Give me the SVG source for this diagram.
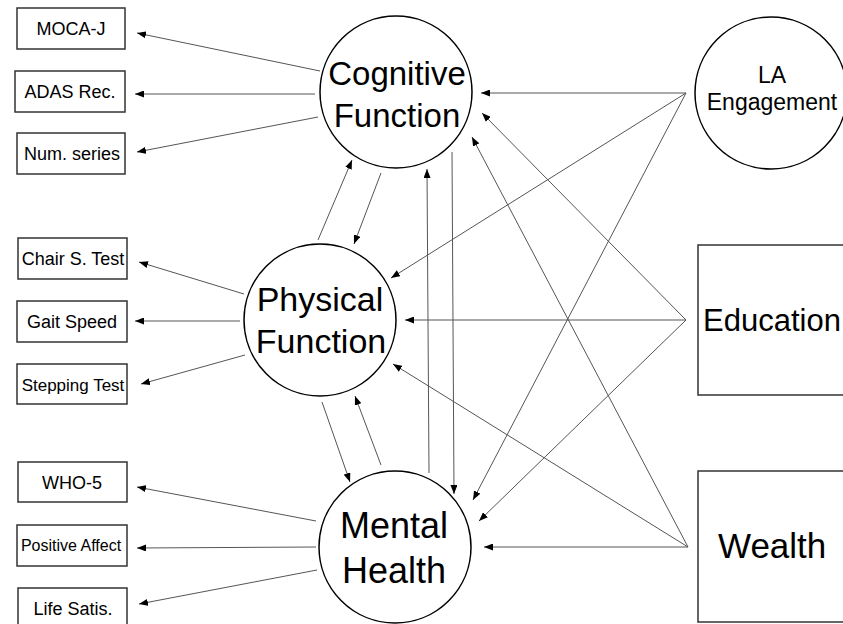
<svg xmlns="http://www.w3.org/2000/svg" width="843" height="624" viewBox="0 0 843 624">
<style>
  text { font-family: "Liberation Sans", Arial, sans-serif; fill: #000; text-anchor: middle; }
  .circ { fill: #fff; stroke: #000; stroke-width: 1.5; }
  .box { fill: #fff; stroke: #333; stroke-width: 1.5; }
  .edge { stroke: #555; stroke-width: 1; fill: none; marker-end: url(#arr); }
  .big { font-size: 33px; }
  .ind { font-size: 18px; }
</style>
<defs>
  <marker id="arr" markerUnits="userSpaceOnUse" markerWidth="9" markerHeight="7" refX="9" refY="3.5" orient="auto">
    <path d="M0,0 L9,3.5 L0,7 z" fill="#000"/>
  </marker>
</defs>
<rect width="843" height="624" fill="#fff"/>

<g id="connectors">
  <line class="edge" x1="320" y1="71" x2="137" y2="33"/>
  <line class="edge" x1="315" y1="94" x2="135" y2="94"/>
  <line class="edge" x1="318" y1="117" x2="137" y2="152"/>
  <line class="edge" x1="244" y1="294" x2="139" y2="262"/>
  <line class="edge" x1="240" y1="321" x2="135" y2="321"/>
  <line class="edge" x1="245" y1="355" x2="141" y2="384"/>
  <line class="edge" x1="316" y1="521" x2="137" y2="487"/>
  <line class="edge" x1="316" y1="547" x2="137" y2="548"/>
  <line class="edge" x1="317" y1="570" x2="139" y2="604"/>
  <line class="edge" x1="318" y1="240" x2="352" y2="160"/>
  <line class="edge" x1="381" y1="173" x2="354" y2="244"/>
  <line class="edge" x1="429" y1="473" x2="427" y2="169"/>
  <line class="edge" x1="452" y1="152" x2="454" y2="494"/>
  <line class="edge" x1="322" y1="402" x2="350" y2="482"/>
  <line class="edge" x1="381" y1="465" x2="355" y2="396"/>
  <line class="edge" x1="686" y1="93" x2="481" y2="93"/>
  <line class="edge" x1="686" y1="93" x2="391" y2="278"/>
  <line class="edge" x1="686" y1="93" x2="473" y2="500"/>
  <line class="edge" x1="686" y1="320" x2="482" y2="113"/>
  <line class="edge" x1="686" y1="320" x2="405" y2="320"/>
  <line class="edge" x1="686" y1="320" x2="479" y2="521"/>
  <line class="edge" x1="688" y1="547" x2="472" y2="137"/>
  <line class="edge" x1="688" y1="547" x2="393" y2="364"/>
  <line class="edge" x1="688" y1="547" x2="484" y2="547"/>
</g>

<g id="cognitive">
  <circle class="circ" cx="396" cy="92" r="76"/>
  <text class="big" x="397" y="85">Cognitive</text>
  <text class="big" x="397" y="127">Function</text>
</g>
<g id="physical">
  <circle class="circ" cx="320" cy="320" r="76"/>
  <text x="320" y="311" style="font-size:34px">Physical</text>
  <text x="321" y="353" style="font-size:34px">Function</text>
</g>
<g id="mental">
  <circle class="circ" cx="395" cy="547" r="76"/>
  <text x="394" y="538" style="font-size:36px">Mental</text>
  <text x="394" y="583" style="font-size:36px">Health</text>
</g>
<g id="la">
  <circle class="circ" cx="771" cy="93" r="76"/>
  <text x="772" y="83" style="font-size:23px">LA</text>
  <text x="772" y="110" style="font-size:23px">Engagement</text>
</g>
<g id="education">
  <rect class="box" x="698" y="245" width="160" height="150"/>
  <text x="703" y="331" style="font-size:31px;text-anchor:start">Education</text>
</g>
<g id="wealth">
  <rect class="box" x="698" y="471" width="160" height="151"/>
  <text x="718" y="558" style="font-size:35px;text-anchor:start">Wealth</text>
</g>

<g id="moca">
  <rect class="box" x="17" y="8" width="108" height="41"/>
  <text class="ind" x="71" y="35">MOCA-J</text>
</g>
<g id="adas">
  <rect class="box" x="15" y="71" width="110" height="41"/>
  <text class="ind" x="70" y="98">ADAS Rec.</text>
</g>
<g id="numseries">
  <rect class="box" x="17" y="133" width="108" height="41"/>
  <text class="ind" x="72" y="160">Num. series</text>
</g>
<g id="chair">
  <rect class="box" x="18" y="238" width="109" height="41"/>
  <text class="ind" x="73" y="265">Chair S. Test</text>
</g>
<g id="gait">
  <rect class="box" x="17" y="301" width="110" height="41"/>
  <text class="ind" x="72" y="328">Gait Speed</text>
</g>
<g id="stepping">
  <rect class="box" x="17" y="364" width="110" height="40"/>
  <text x="73" y="391" style="font-size:17px">Stepping Test</text>
</g>
<g id="who5">
  <rect class="box" x="18" y="462" width="109" height="40"/>
  <text class="ind" x="72" y="489">WHO-5</text>
</g>
<g id="posaffect">
  <rect class="box" x="17" y="525" width="110" height="41"/>
  <text x="71" y="551" style="font-size:16px">Positive Affect</text>
</g>
<g id="lifesatis">
  <rect class="box" x="18" y="588" width="109" height="41"/>
  <text class="ind" x="73" y="615">Life Satis.</text>
</g>
</svg>
